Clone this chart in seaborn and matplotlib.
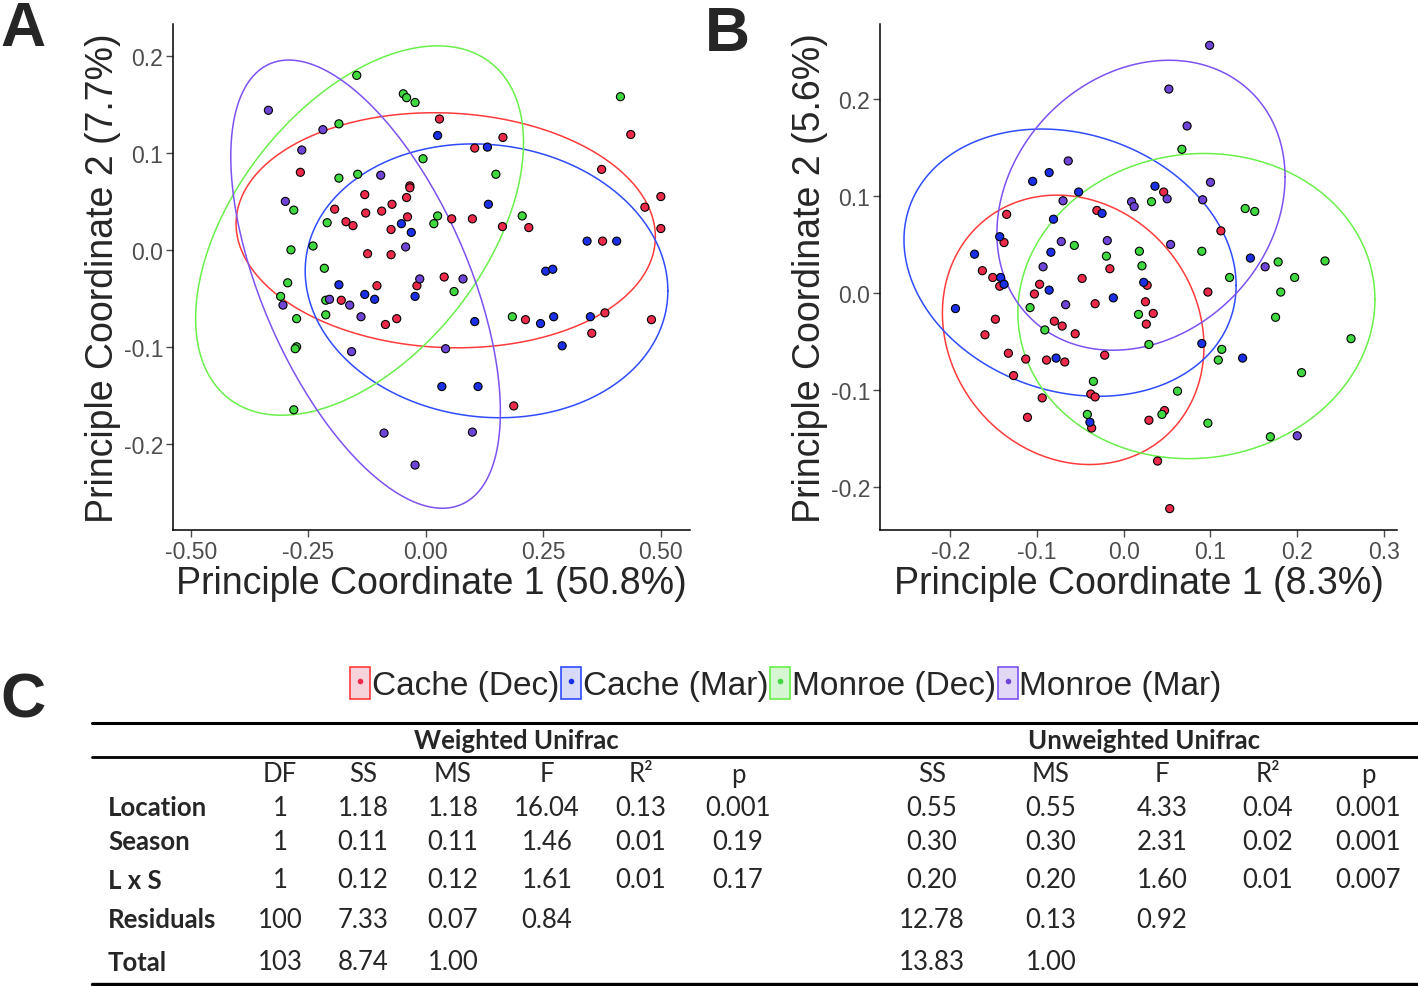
import numpy as np
import pandas as pd
import matplotlib
matplotlib.use("Agg")
import matplotlib.pyplot as plt
from matplotlib.lines import Line2D
from matplotlib.patches import Patch
from matplotlib.legend_handler import HandlerTuple
import seaborn as sns

# ── groups and colours ───────────────────────────────────────────────────────
groups = ["Cache (Dec)", "Cache (Mar)", "Monroe (Dec)", "Monroe (Mar)"]
point_colors = ["#ee2a4a", "#1a2fe6", "#3fd93f", "#6f45d8"]
ring_colors = ["#ff3b3b", "#2f4bff", "#6af04a", "#7d52f2"]
key_fills = ["#f6d3da", "#d6daf6", "#d6f6d3", "#e2d8f6"]

# ── panel A: weighted unifrac PCoA ───────────────────────────────────────────
a_cache_dec_x = [-0.267, -0.034, -0.034, -0.130, -0.041, -0.072, -0.194, -0.128, -0.094, -0.039,
                 -0.170, -0.155, -0.074, -0.124, -0.074, 0.436, 0.029, 0.164, 0.104, 0.374,
                 0.500, 0.466, 0.055, 0.099, 0.163, 0.219, 0.500, 0.376, 0.039, -0.019,
                 -0.104, -0.180, -0.086, -0.062, 0.212, 0.381, 0.480, 0.353, 0.187]
a_cache_dec_y = [0.080, 0.066, 0.064, 0.057, 0.054, 0.047, 0.042, 0.038, 0.040, 0.034,
                 0.029, 0.025, 0.021, -0.004, -0.005, 0.119, 0.135, 0.116, 0.105, 0.083,
                 0.055, 0.044, 0.032, 0.032, 0.024, 0.023, 0.022, 0.009, -0.028, -0.037,
                 -0.037, -0.052, -0.077, -0.071, -0.072, -0.065, -0.072, -0.086, -0.161]
a_cache_mar_x = [-0.052, -0.031, 0.025, 0.131, 0.133, 0.343, 0.406, 0.255, 0.270, -0.185,
                 -0.130, -0.109, -0.023, 0.104, 0.244, 0.272, 0.350, 0.290, 0.034, 0.111]
a_cache_mar_y = [0.027, 0.018, 0.118, 0.106, 0.047, 0.009, 0.009, -0.022, -0.020, -0.036,
                 -0.046, -0.051, -0.048, -0.074, -0.076, -0.069, -0.069, -0.099, -0.141, -0.141]
a_monroe_dec_x = [-0.147, -0.048, -0.041, -0.023, -0.185, -0.006, -0.185, -0.145, -0.281, -0.210,
                  -0.287, -0.240, -0.216, 0.414, 0.149, 0.025, 0.017, 0.205, -0.294, -0.309,
                  -0.213, -0.275, -0.213, -0.275, -0.278, -0.281, 0.060, 0.184]
a_monroe_dec_y = [0.180, 0.161, 0.157, 0.152, 0.130, 0.094, 0.074, 0.078, 0.041, 0.028,
                  0.000, 0.004, -0.019, 0.158, 0.078, 0.035, 0.027, 0.035, -0.034, -0.048,
                  -0.052, -0.071, -0.067, -0.100, -0.102, -0.165, -0.043, -0.069]
a_monroe_mar_x = [-0.335, -0.219, -0.264, -0.096, -0.299, -0.043, -0.013, 0.079, -0.304,
                  -0.205, -0.162, -0.138, -0.158, -0.089, -0.023, 0.042, 0.099]
a_monroe_mar_y = [0.144, 0.124, 0.103, 0.077, 0.050, 0.003, -0.030, -0.030, -0.057,
                  -0.051, -0.057, -0.069, -0.105, -0.189, -0.222, -0.102, -0.188]

# ── panel B: unweighted unifrac PCoA ─────────────────────────────────────────
b_cache_dec_x = [-0.031, -0.135, -0.138, -0.016, -0.163, -0.151, -0.048, 0.046, 0.112, -0.143,
                 0.027, -0.097, -0.103, -0.033, 0.025, 0.026, -0.148, -0.080, -0.071, -0.056,
                 -0.160, -0.022, -0.133, -0.113, -0.089, -0.068, -0.127, -0.038, -0.033, -0.094,
                 -0.111, -0.037, 0.029, 0.097, 0.034, 0.047, 0.039, 0.053]
b_cache_dec_y = [0.085, 0.081, 0.052, 0.025, 0.023, 0.016, 0.015, 0.104, 0.064, 0.007,
                 0.008, 0.009, -0.001, -0.011, -0.009, -0.032, -0.027, -0.029, -0.034, -0.042,
                 -0.043, -0.064, -0.062, -0.068, -0.069, -0.071, -0.085, -0.104, -0.107, -0.108,
                 -0.128, -0.139, -0.131, 0.001, -0.021, -0.121, -0.173, -0.222]
b_cache_mar_x = [-0.086, -0.105, -0.052, -0.025, -0.081, -0.143, -0.172, -0.084, -0.142, 0.036,
                 0.146, -0.138, 0.023, -0.086, -0.012, -0.194, -0.078, -0.039, 0.090, 0.137]
b_cache_mar_y = [0.124, 0.115, 0.104, 0.082, 0.076, 0.058, 0.040, 0.042, 0.016, 0.110,
                 0.036, 0.009, 0.011, 0.003, -0.005, -0.016, -0.067, -0.133, -0.052, -0.067]
b_monroe_dec_x = [-0.057, -0.020, 0.018, 0.021, 0.067, 0.032, 0.140, 0.151, 0.090, 0.178,
                  0.232, 0.122, 0.197, -0.108, 0.017, -0.091, 0.029, -0.035, -0.042, 0.181,
                  0.175, 0.262, 0.113, 0.109, 0.205, 0.062, 0.044, 0.097, 0.169]
b_monroe_dec_y = [0.049, 0.038, 0.043, 0.028, 0.148, 0.094, 0.087, 0.084, 0.043, 0.032,
                  0.033, 0.016, 0.016, -0.015, -0.022, -0.038, -0.053, -0.091, -0.125, 0.001,
                  -0.025, -0.047, -0.058, -0.069, -0.082, -0.101, -0.125, -0.134, -0.148]
b_monroe_mar_x = [-0.064, -0.070, 0.009, 0.012, -0.072, -0.019, -0.093, 0.099, 0.052,
                  0.073, 0.100, 0.050, 0.091, 0.054, 0.163, -0.067, 0.200]
b_monroe_mar_y = [0.136, 0.095, 0.094, 0.089, 0.053, 0.054, 0.027, 0.255, 0.210,
                  0.172, 0.114, 0.097, 0.096, 0.050, 0.027, -0.012, -0.147]

# ── panel C: PERMANOVA table ─────────────────────────────────────────────────
terms = ["Location", "Season", "L x S", "Residuals", "Total"]
df_col = ["1", "1", "1", "100", "103"]
w_ss = ["1.18", "0.11", "0.12", "7.33", "8.74"]
w_ms = ["1.18", "0.11", "0.12", "0.07", "1.00"]
w_f = ["16.04", "1.46", "1.61", "0.84", ""]
w_r2 = ["0.13", "0.01", "0.01", "", ""]
w_p = ["0.001", "0.19", "0.17", "", ""]
u_ss = ["0.55", "0.30", "0.20", "12.78", "13.83"]
u_ms = ["0.55", "0.30", "0.20", "0.13", "1.00"]
u_f = ["4.33", "2.31", "1.60", "0.92", ""]
u_r2 = ["0.04", "0.02", "0.01", "", ""]
u_p = ["0.001", "0.001", "0.007", "", ""]


def build_frame(xs, ys):
    parts = []
    for g, x, y in zip(groups, xs, ys):
        parts.append(pd.DataFrame({"PC1": x, "PC2": y, "group": g}))
    return pd.concat(parts, ignore_index=True)


def cov_trob(X, nu=5, maxit=25, tol=0.01):
    # multivariate-t robust location / scatter (same scheme as MASS::cov.trob)
    n, p = X.shape
    loc = X.mean(axis=0)
    w = np.ones(n)
    for _ in range(maxit):
        w0 = w
        D = X - loc
        S = (w[:, None] * D).T @ D / w.sum()
        Q = np.einsum("ij,jk,ik->i", D, np.linalg.inv(S), D)
        w = (nu + p) / (nu + Q)
        loc = (w[:, None] * X).sum(axis=0) / w.sum()
        if np.all(np.abs(w - w0) < tol):
            break
    D = X - loc
    cov = (w[:, None] * D).T @ D / n
    return loc, cov


def t_ellipse(ax, x, y, color, level=0.9):
    # stat_ellipse(type = "t"): F quantile with 2 numerator df in closed form
    X = np.column_stack([x, y])
    d2 = len(X) - 1
    q = d2 / 2 * ((1 - level) ** (-2 / d2) - 1)
    radius = np.sqrt(2 * q)
    loc, cov = cov_trob(X)
    chol = np.linalg.cholesky(cov)
    t = np.linspace(0, 2 * np.pi, 200)
    pts = chol @ np.vstack([np.cos(t), np.sin(t)]) * radius
    ax.plot(loc[0] + pts[0], loc[1] + pts[1], color=color, lw=1.1, zorder=1)


sns.set_style("white")
plt.rcParams["font.family"] = ["Liberation Sans", "DejaVu Sans"]
plt.rcParams["axes.unicode_minus"] = False

fig = plt.figure(figsize=(14.18, 9.87), dpi=100)
ax_a = fig.add_axes([173 / 1418, 1 - 531 / 987, 517 / 1418, 506 / 987])
ax_b = fig.add_axes([880 / 1418, 1 - 531 / 987, 517 / 1418, 506 / 987])

panels = [
    (ax_a, [a_cache_dec_x, a_cache_mar_x, a_monroe_dec_x, a_monroe_mar_x],
     [a_cache_dec_y, a_cache_mar_y, a_monroe_dec_y, a_monroe_mar_y],
     (-0.538, 0.562), (-0.289, 0.233), [-0.5, -0.25, 0, 0.25, 0.5], "{:.2f}",
     [-0.2, -0.1, 0, 0.1, 0.2], "50.8%", "7.7%"),
    (ax_b, [b_cache_dec_x, b_cache_mar_x, b_monroe_dec_x, b_monroe_mar_x],
     [b_cache_dec_y, b_cache_mar_y, b_monroe_dec_y, b_monroe_mar_y],
     (-0.281, 0.315), (-0.244, 0.277), [-0.2, -0.1, 0, 0.1, 0.2, 0.3], "{:.1f}",
     [-0.2, -0.1, 0, 0.1, 0.2], "8.3%", "5.6%"),
]

for ax, xs, ys, xlim, ylim, xt, xfmt, yt, px, py in panels:
    data = build_frame(xs, ys)
    sns.scatterplot(data=data, x="PC1", y="PC2", hue="group", hue_order=groups,
                    palette=point_colors, s=34, edgecolor="black", linewidth=0.8,
                    legend=False, ax=ax, zorder=3)
    for x, y, c in zip(xs, ys, ring_colors):
        t_ellipse(ax, x, y, c)
    ax.set_xlim(*xlim)
    ax.set_ylim(*ylim)
    ax.set_xticks(xt)
    ax.set_xticklabels([xfmt.format(v) for v in xt])
    ax.set_yticks(yt)
    ax.set_yticklabels(["{:.1f}".format(v) for v in yt])
    ax.tick_params(axis="both", labelsize=16.5, labelcolor="#4d4d4d", color="#4d4d4d",
                   length=5, width=1, direction="out", bottom=True, left=True, pad=2)
    for side in ["top", "right"]:
        ax.spines[side].set_visible(False)
    for side in ["left", "bottom"]:
        ax.spines[side].set_color("black")
        ax.spines[side].set_linewidth(1.1)
    ax.set_xlabel(f"Principle Coordinate 1 ({px})", fontsize=27, labelpad=2)
    ax.set_ylabel(f"Principle Coordinate 2 ({py})", fontsize=27, labelpad=2)

# panel letters
for letter, x, y in [("A", 0.0, 1.0), ("B", 705 / 1418, 0.995), ("C", 0.0, 1 - 672 / 987)]:
    fig.text(x, y, letter, fontsize=45, fontweight="bold", va="top", ha="left")

# legend
handles = [(Patch(facecolor=f, edgecolor=c, lw=1.2),
            Line2D([], [], marker="o", ls="", markersize=3, color=p, markeredgecolor=p))
           for f, c, p in zip(key_fills, ring_colors, point_colors)]
fig.legend(handles, groups, loc="center", bbox_to_anchor=(786 / 1418, 1 - 685 / 987),
           ncol=4, frameon=False, fontsize=24,
           handler_map={tuple: HandlerTuple(ndivide=1, pad=0)},
           handlelength=0.6, handleheight=1.1, handletextpad=0.05, columnspacing=0.05,
           borderpad=0)

# table
tab = fig.add_axes([0, 0, 1, 1])
tab.set_xlim(0, 1418)
tab.set_ylim(987, 0)
tab.axis("off")
tab.patch.set_alpha(0)
tab.plot([92, 1418], [724, 724], color="black", lw=2.2)
tab.plot([92, 1418], [758, 758], color="black", lw=2.0)
tab.plot([92, 1418], [985, 985], color="black", lw=2.4)

tfont = ["Lato", "DejaVu Sans"]
fs = 18.5
tab.text(516, 741, "Weighted Unifrac", ha="center", va="center", fontsize=fs,
         fontweight="bold", family=tfont)
tab.text(1144, 741, "Unweighted Unifrac", ha="center", va="center", fontsize=fs,
         fontweight="bold", family=tfont)

col_x = [280, 363, 453, 547, 641, 738, 932, 1051, 1162, 1268, 1368]
col_names = ["DF", "SS", "MS", "F", "R²", "p", "SS", "MS", "F", "R²", "p"]
columns = [df_col, w_ss, w_ms, w_f, w_r2, w_p, u_ss, u_ms, u_f, u_r2, u_p]
row_y = [808, 842, 881, 920, 963]
for cx, name in zip(col_x, col_names):
    tab.text(cx, 775, name, ha="center", va="center", fontsize=fs, family=tfont)
for ry, term in zip(row_y, terms):
    tab.text(108, ry, term, ha="left", va="center", fontsize=fs, fontweight="bold", family=tfont)
for cx, col in zip(col_x, columns):
    for ry, val in zip(row_y, col):
        tab.text(cx, ry, val, ha="center", va="center", fontsize=fs, family=tfont)

fig.savefig("out.png", dpi=100)
